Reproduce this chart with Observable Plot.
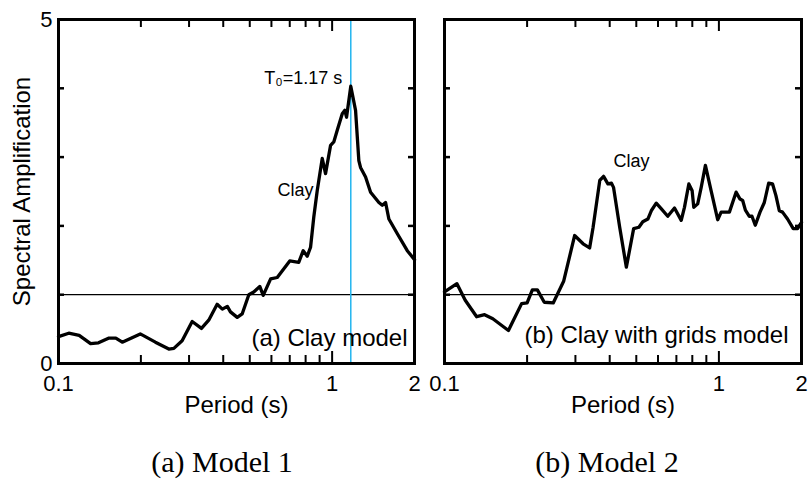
<!DOCTYPE html>
<html>
<head>
<meta charset="utf-8">
<script src="https://cdn.jsdelivr.net/npm/d3@7"></script>
<script src="https://cdn.jsdelivr.net/npm/@observablehq/plot@0.6"></script>
<style>
  body { margin: 0; background: #fff; }
  #wrap { position: relative; width: 809px; height: 481px; overflow: hidden; }
  .panel { position: absolute; top: 0; }
  .cap { position: absolute; top: 447px; font-family: "Liberation Serif", "Times New Roman", serif; font-size: 30px; line-height: 30px; transform: translateX(-50%); white-space: nowrap; color: #000; }
</style>
</head>
<body>
<div id="wrap">
  <div id="p1" class="panel" style="left:0px"></div>
  <div id="p2" class="panel" style="left:424px"></div>
  <div class="cap" style="left:222px">(a) Model 1</div>
  <div class="cap" style="left:607px">(b) Model 2</div>
</div>
<script>
// ---- Data ----
const period1 = [0.100,0.109,0.119,0.131,0.140,0.153,0.162,0.171,0.199,0.226,0.253,0.264,0.283,0.308,0.333,0.354,0.380,0.397,0.414,0.425,0.450,0.469,0.496,0.517,0.544,0.560,0.596,0.630,0.700,0.755,0.784,0.811,0.834,0.857,0.882,0.920,0.946,0.987,1.014,1.044,1.089,1.113,1.129,1.17,1.218,1.252,1.270,1.325,1.382,1.482,1.525,1.568,1.612,1.729,1.882,2.000];
const amp1 = [0.39,0.44,0.41,0.29,0.30,0.37,0.37,0.31,0.43,0.31,0.21,0.22,0.33,0.61,0.51,0.63,0.86,0.79,0.83,0.75,0.67,0.72,1.00,1.04,1.12,0.99,1.23,1.25,1.49,1.47,1.64,1.56,1.69,2.13,2.51,2.98,2.76,3.17,3.22,3.39,3.63,3.68,3.58,4.03,3.68,2.95,2.85,2.71,2.49,2.34,2.30,2.34,2.10,1.89,1.64,1.51];

const period2 = [0.100,0.111,0.119,0.131,0.140,0.150,0.171,0.191,0.200,0.209,0.218,0.231,0.249,0.272,0.298,0.320,0.338,0.348,0.368,0.380,0.394,0.406,0.413,0.435,0.460,0.489,0.511,0.528,0.551,0.567,0.591,0.616,0.651,0.689,0.729,0.749,0.777,0.799,0.810,0.837,0.862,0.893,0.937,0.990,1.019,1.092,1.155,1.194,1.221,1.249,1.291,1.320,1.357,1.412,1.464,1.518,1.569,1.614,1.660,1.706,1.779,1.866,1.935,2.000];
const amp2 = [1.04,1.16,0.92,0.68,0.71,0.65,0.48,0.87,0.88,1.07,1.07,0.89,0.88,1.20,1.86,1.74,1.68,1.98,2.66,2.72,2.61,2.62,2.56,1.98,1.40,1.96,1.98,2.06,2.10,2.22,2.33,2.25,2.14,2.26,2.08,2.27,2.61,2.51,2.27,2.32,2.56,2.88,2.51,2.09,2.20,2.20,2.49,2.39,2.37,2.23,2.14,2.14,2.01,2.20,2.34,2.62,2.61,2.44,2.22,2.20,2.10,1.96,1.96,2.05];

const xTickLabels = [0.1, 1, 2];
const xMinorTicks = [0.2, 0.3, 0.4, 0.5, 0.6, 0.7, 0.8, 0.9];
const xMajorTicks = [1];
const yTicks = [1, 2, 3, 4];
const yTickLabels = [0, 5];
const referenceLine = [1];
const predominantPeriod = [1.17];

// annotation anchors (right end / centre of each label, in data units)
const annot1End = [
  {period: 1.09, amp: 4.06, text: "T\u2080=1.17 s"},
  {period: 0.855, amp: 2.43, text: "Clay"}
];
const annot1Mid = [];
const annot2End = [];
const annot2Mid = [
  {period: 0.48, amp: 2.85, text: "Clay"}
];

const series1 = period1.map((p, i) => ({period: p, amp: amp1[i]}));
const series2 = period2.map((p, i) => ({period: p, amp: amp2[i]}));

const FONT = '"Liberation Sans", Arial, Helvetica, sans-serif';

function panel({data, width, marginLeft, marginRight, showY, modelLabel, labelDx, labelDy, annEnd, annMid, vline}) {
  const H = 425, mt = 19, mb = 62;
  const plotH = H - mt - mb;
  const plotW = width - marginLeft - marginRight;
  return Plot.plot({
    width, height: H, marginTop: mt, marginBottom: mb, marginLeft, marginRight,
    style: {fontFamily: FONT, fontSize: "22px", background: "transparent", overflow: "visible", color: "#000"},
    x: {type: "log", domain: [0.1, 2]},
    y: {domain: [0, 5], axis: showY ? undefined : null},
    marks: [
      Plot.ruleY(referenceLine, {stroke: "#000", strokeWidth: 1.2}),
      vline ? Plot.ruleX(vline, {stroke: "#22b5ef", strokeWidth: 1.5}) : null,
      Plot.line(data, {x: "period", y: "amp", stroke: "#000", strokeWidth: 3.3, strokeLinejoin: "round"}),
      Plot.tickX(xMinorTicks, {insetTop: plotH - 8, strokeWidth: 2}),
      Plot.tickX(xMinorTicks, {insetBottom: plotH - 8, strokeWidth: 2}),
      Plot.tickX(xMajorTicks, {insetTop: plotH - 12, strokeWidth: 2}),
      Plot.tickX(xMajorTicks, {insetBottom: plotH - 12, strokeWidth: 2}),
      Plot.tickY(yTicks, {insetRight: plotW - 6, strokeWidth: 2.5}),
      Plot.tickY(yTicks, {insetLeft: plotW - 6, strokeWidth: 2.5}),
      Plot.frame({stroke: "#000", strokeWidth: 3}),
      Plot.axisX({ticks: xTickLabels, tickSize: 0, tickPadding: 12, tickFormat: d => String(d), label: null, fontSize: 22}),
      showY ? Plot.axisY({ticks: yTickLabels, tickSize: 0, tickPadding: 6, tickFormat: d => String(d), label: null, fontSize: 22}) : null,
      Plot.text(["Period (s)"], {text: d => d, frameAnchor: "bottom", textAnchor: "middle", lineAnchor: "top", dy: 32, fontSize: 24}),
      showY ? Plot.text(["Spectral Amplification"], {text: d => d, frameAnchor: "left", textAnchor: "middle", dx: -36, rotate: -90, fontSize: 24}) : null,
      Plot.text([modelLabel], {text: d => d, frameAnchor: "bottom-right", textAnchor: "end", lineAnchor: "bottom", dx: labelDx, dy: labelDy, fontSize: 24}),
      Plot.text(annEnd, {x: "period", y: "amp", text: "text", textAnchor: "end", lineAnchor: "bottom", fontSize: 18}),
      Plot.text(annMid, {x: "period", y: "amp", text: "text", textAnchor: "middle", lineAnchor: "bottom", fontSize: 18})
    ]
  });
}

document.getElementById("p1").append(panel({
  data: series1, width: 424, marginLeft: 58, marginRight: 10, showY: true,
  modelLabel: "(a) Clay model", labelDx: -7, labelDy: -18, annEnd: annot1End, annMid: annot1Mid, vline: predominantPeriod
}));
document.getElementById("p2").append(panel({
  data: series2, width: 385, marginLeft: 20, marginRight: 8, showY: false,
  modelLabel: "(b) Clay with grids model", labelDx: -13, labelDy: -21, annEnd: annot2End, annMid: annot2Mid, vline: null
}));
</script>
</body>
</html>
